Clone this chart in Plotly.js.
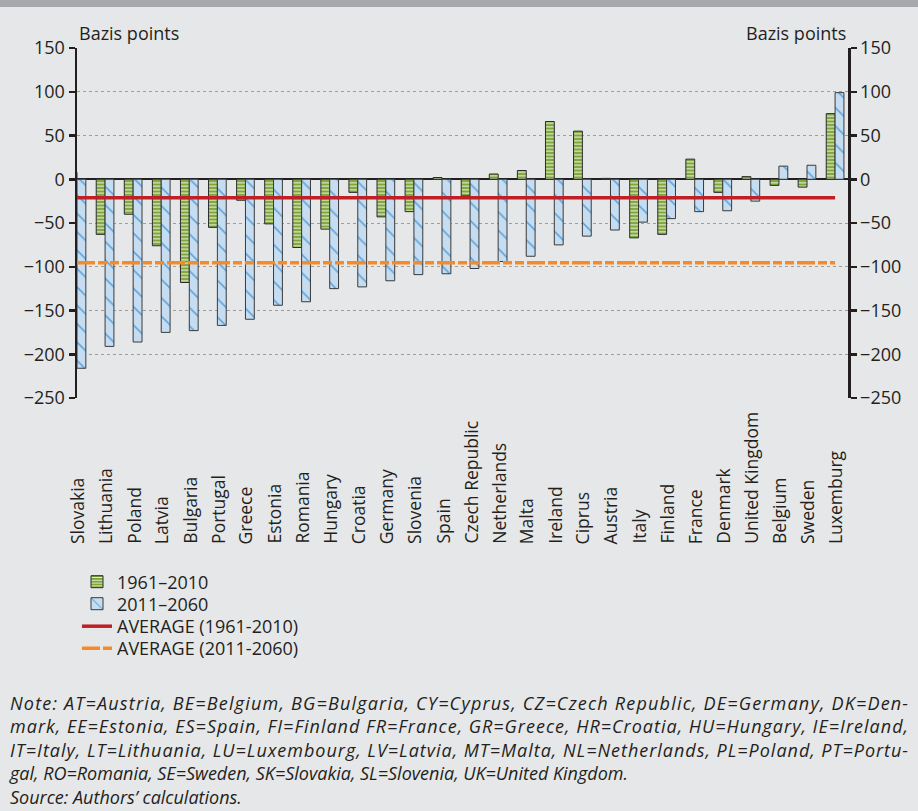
<!DOCTYPE html>
<html>
<head>
<meta charset="utf-8">
<script src="https://cdn.plot.ly/plotly-3.0.1.min.js"></script>
<style>
  html, body { margin: 0; padding: 0; background: #e6e7e9; }
  #topband { position: absolute; left: 0; top: 0; width: 918px; height: 7px; background: #a7a8ab; z-index: 5; }
  #chart { width: 918px; height: 811px; }
</style>
</head>
<body>
<div id="topband"></div>
<div id="chart"></div>
<script>
// ---- data ----
const countries = ["Slovakia","Lithuania","Poland","Latvia","Bulgaria","Portugal","Greece","Estonia","Romania","Hungary","Croatia","Germany","Slovenia","Spain","Czech Republic","Netherlands","Malta","Ireland","Ciprus","Austria","Italy","Finland","France","Denmark","United Kingdom","Belgium","Sweden","Luxemburg"];
const period1 = [8,-63,-40,-76,-118,-55,-24,-51,-78,-57,-15,-43,-37,2,-19,6,10,66,55,1,-67,-63,23,-15,3,-7,-9,75];
const period2 = [-216,-191,-186,-175,-173,-167,-160,-144,-140,-125,-123,-116,-109,-108,-102,-94,-88,-75,-65,-58,-49,-45,-37,-36,-25,15,16,99];
const avg1 = -21;
const avg2 = -95.5;
const seriesNames = ["1961–2010","2011–2060","AVERAGE (1961-2010)","AVERAGE (2011-2060)"];
const yTicks = [150,100,50,0,-50,-100,-150,-200,-250];
const axisTitle = "Bazis points";
const noteLines = [
  "Note: AT=Austria, BE=Belgium, BG=Bulgaria, CY=Cyprus, CZ=Czech Republic, DE=Germany, DK=Den-",
  "mark, EE=Estonia, ES=Spain, FI=Finland FR=France, GR=Greece, HR=Croatia, HU=Hungary, IE=Ireland,",
  "IT=Italy, LT=Lithuania, LU=Luxembourg, LV=Latvia, MT=Malta, NL=Netherlands, PL=Poland, PT=Portu-",
  "gal, RO=Romania, SE=Sweden, SK=Slovakia, SL=Slovenia, UK=United Kingdom.",
  "Source: Authors’ calculations."
];

// ---- styling ----
const FONT = "Open Sans, Noto Sans, sans-serif";
const TXT = "#231f20";
const idx = countries.map((c, i) => i);
const legendRowsPx = [582, 604, 626.5, 648.5];
const plotBottomPx = 398, plotHeightPx = 350;

const traces = [
  {
    type: "bar", name: seriesNames[0], x: idx, y: period1, cliponaxis: false, legend: "legend",
    marker: { color: "#7ea53a", line: { color: "#2b2b2b", width: 1 },
      pattern: { shape: "-", fgcolor: "#dfeacb", bgcolor: "#7ea53a", size: 3.5, solidity: 0.35 } }
  },
  {
    type: "bar", name: seriesNames[1], x: idx, y: period2, cliponaxis: false, legend: "legend2",
    marker: { color: "#c6ddf1", line: { color: "#3a3a3a", width: 1 },
      pattern: { shape: "\\", fgcolor: "#5fa4dc", bgcolor: "#c6ddf1", size: 13, solidity: 0.12 } }
  },
  {
    type: "scatter", mode: "lines", name: seriesNames[2], yaxis: "y2", legend: "legend3",
    x: [idx[0], idx[idx.length - 1]], y: [avg1, avg1],
    line: { color: "#bf2026", width: 3.5 }
  },
  {
    type: "scatter", mode: "lines", name: seriesNames[3], yaxis: "y2", legend: "legend4",
    x: [idx[0], idx[idx.length - 1]], y: [avg2, avg2],
    line: { color: "#f58a28", width: 3.5, dash: "18px,3px,9px,3px,9px,3px" }
  }
];

const yCommon = {
  range: [-250, 150], tickvals: yTicks, ticks: "outside", ticklen: 6, tickwidth: 2.5,
  tickcolor: TXT, showline: true, linewidth: 2.5, linecolor: TXT,
  tickfont: { family: FONT, size: 18, color: TXT }, fixedrange: true
};

const annotations = [];
countries.forEach((c, i) => {
  annotations.push({
    text: c, x: i, xref: "x", y: 0, yref: "paper", yshift: -148,
    xanchor: "center", yanchor: "bottom", textangle: -90, showarrow: false,
    font: { family: FONT, size: 17.5, color: TXT }
  });
});
annotations.push({ text: axisTitle, x: 0, xref: "paper", y: 1, yref: "paper", xanchor: "left", yanchor: "bottom",
  yshift: 1, showarrow: false, font: { family: FONT, size: 18, color: TXT } });
annotations.push({ text: axisTitle, x: 1, xref: "paper", y: 1, yref: "paper", xanchor: "right", yanchor: "bottom",
  yshift: 1, showarrow: false, font: { family: FONT, size: 18, color: TXT } });
// note block: one multi-line annotation
annotations.push({ text: noteLines.join("<br>"), x: 0, xref: "paper", xshift: -70, y: 0, yref: "paper",
  yshift: plotBottomPx - 750, xanchor: "left", yanchor: "middle", align: "left", showarrow: false,
  font: { family: FONT, size: 18, color: TXT, style: "italic" } });

function legendAt(k) {
  return { x: 0, xanchor: "left", y: (plotBottomPx - legendRowsPx[k]) / plotHeightPx, yanchor: "middle",
    bgcolor: "rgba(0,0,0,0)", borderwidth: 0, font: { family: FONT, size: 18, color: TXT },
    itemwidth: 30, tracegroupgap: 0 };
}

const layout = {
  width: 918, height: 811,
  margin: { l: 77, r: 70, t: 48, b: 413 },
  paper_bgcolor: "#e6e7e9", plot_bgcolor: "#e6e7e9",
  barmode: "group", bargap: 0.37, bargroupgap: 0,
  showlegend: true,
  legend: legendAt(0), legend2: legendAt(1), legend3: legendAt(2), legend4: legendAt(3),
  xaxis: { type: "linear", range: [0, 27.46], showgrid: false, zeroline: false, showline: false,
    showticklabels: false, ticks: "", fixedrange: true },
  yaxis: Object.assign({}, yCommon, { side: "left", showgrid: true, gridcolor: "#9d9d9d", griddash: "dot", gridwidth: 1,
    zeroline: true, zerolinecolor: TXT, zerolinewidth: 2 }),
  yaxis2: Object.assign({}, yCommon, { side: "right", overlaying: "y", showgrid: false, zeroline: false }),
  annotations: annotations
};

Plotly.newPlot("chart", traces, layout, { displayModeBar: false, staticPlot: true }).then(function (gd) {
  // justify the first three note lines to the full text width, as in the reference
  const targets = noteLines.slice(0, 3);
  gd.querySelectorAll("text.annotation-text tspan.line").forEach(function (el) {
    if (targets.indexOf(el.textContent) >= 0) {
      el.setAttribute("textLength", "898");
      el.setAttribute("lengthAdjust", "spacing");
    }
  });
});
</script>
</body>
</html>
